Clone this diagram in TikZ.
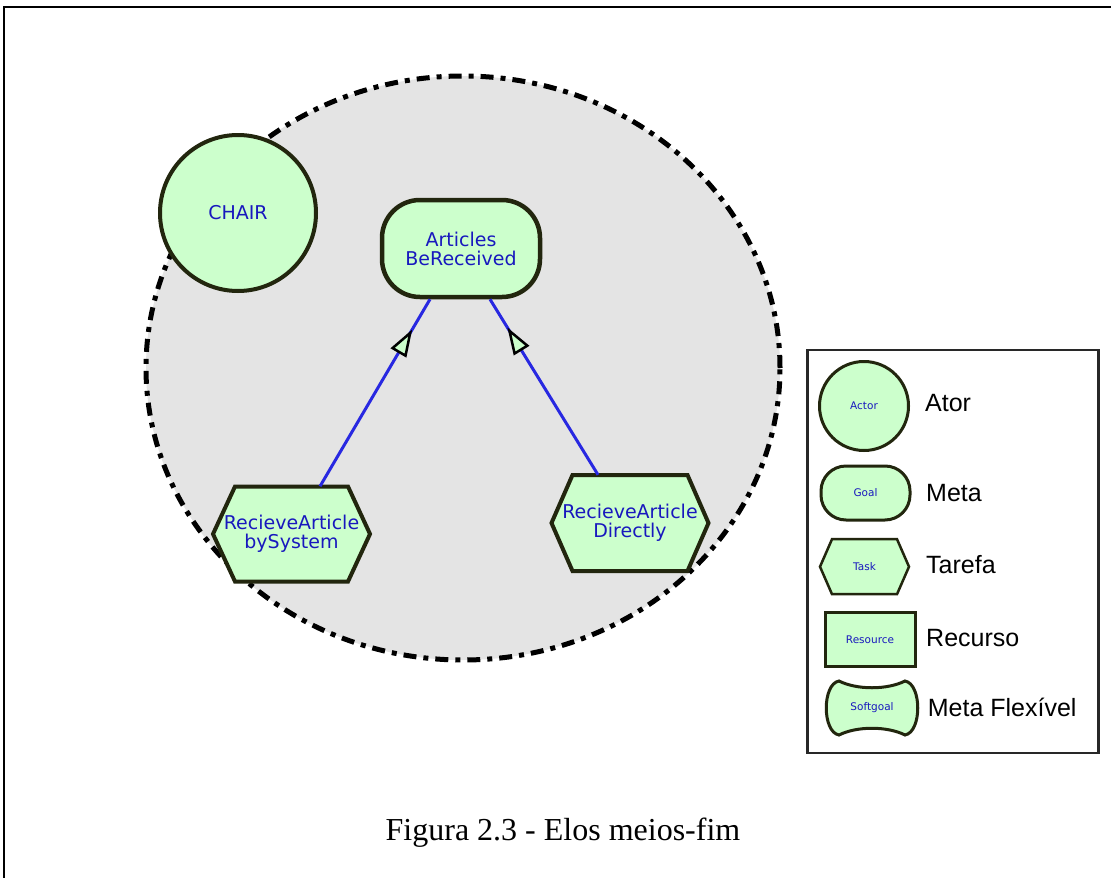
\documentclass[tikz,border=0pt]{standalone}
\usepackage{fontspec}
\setmainfont{Liberation Serif}
\newfontfamily\diagfont{DejaVu Sans}
\newfontfamily\legendfont{Liberation Sans}
\usetikzlibrary{calc,decorations.markings}

\definecolor{nodefill}{RGB}{204,255,204}
\definecolor{nodeline}{RGB}{34,38,14}
\definecolor{labelblue}{RGB}{24,24,190}
\definecolor{linkblue}{RGB}{40,40,225}
\definecolor{boundaryfill}{RGB}{228,228,228}
\definecolor{legendline}{RGB}{40,40,40}

% hexagon outline of a task: centre, half width, half height, point depth, line width
\newcommand\taskhexagon[5]{%
  \draw[draw=nodeline, fill=nodefill, line width=#5, line join=miter, shift={#1}]
    (-#2,0) -- (-#2+#4,-#3) -- (#2-#4,-#3) -- (#2,0) -- (#2-#4,#3) -- (-#2+#4,#3) -- cycle;}

\begin{document}
\begin{tikzpicture}[x=1pt,y=-1pt,
  lbl/.style={font=\diagfont\fontsize{19}{19}\selectfont, text=labelblue, align=center},
  mini/.style={font=\diagfont\fontsize{10.5}{11}\selectfont, text=labelblue},
  actor/.style={circle, draw=nodeline, fill=nodefill, line width=4pt,
    minimum size=156pt, inner sep=0pt, lbl},
  goal/.style={rectangle, rounded corners=38pt, draw=nodeline, fill=nodefill,
    line width=4.5pt, minimum width=158pt, minimum height=97pt, inner sep=0pt, lbl},
  taskbox/.style={rectangle, inner sep=0pt, lbl},
  legtext/.style={font=\legendfont\fontsize{25}{30}\selectfont, text=black, anchor=base west, inner sep=0pt},
  link/.style={draw=linkblue, line width=3pt,
    decoration={markings, mark=at position 0.82 with {
      \draw[draw=black, fill=nodefill, line width=2.5pt, line join=miter]
        (0pt,0pt) -- (-22pt,7.5pt) -- (-22pt,-7.5pt) -- cycle;}},
    postaction={decorate}},
  boundary/.style={draw=black, fill=boundaryfill, line width=5pt,
    dash pattern=on 13pt off 7pt on 5pt off 7pt}
]
\useasboundingbox (0,0) rectangle (1111,878);

% page frame (top and left edges)
\draw[line width=2.5pt] (4,878) -- (4,7) -- (1111,7);

% actor boundary
\draw[boundary] (463,368) ellipse [x radius=317pt, y radius=292pt];

% actor and goal
\node[actor] (chair) at (238,213) {CHAIR};
\node[goal] (goal) at (461,248.5) {Articles\\BeReceived};

% tasks
\taskhexagon{(291.5,534)}{78.5}{47.5}{22}{4pt}
\node[taskbox, minimum width=157pt, minimum height=95pt] (t1) at (291.5,534) {RecieveArticle\\bySystem};
\taskhexagon{(630,523)}{78.5}{48}{21}{4pt}
\node[taskbox, minimum width=157pt, minimum height=96pt] (t2) at (630,523) {RecieveArticle\\Directly};

% means-end links
\draw[link] ($(t1.north)+(28.5,0)$) -- ($(goal.south)+(-31,0)$);
\draw[link] ($(t2.north)+(-32,0)$) -- ($(goal.south)+(29,0)$);

% legend
\node[draw=legendline, fill=white, line width=2.5pt, minimum width=291pt,
  minimum height=403pt, inner sep=0pt] (legend) at (952.8,551.4) {};
\node[actor, minimum size=89pt, line width=3pt, mini] (lactor) at (864,406) {Actor};
\node[goal, minimum width=89pt, minimum height=54pt, rounded corners=25pt,
  line width=3pt, mini] (lgoal) at (865.5,493) {Goal};
\taskhexagon{(864.5,566.7)}{44.5}{27.5}{12}{2.5pt}
\node[taskbox, mini, minimum width=89pt, minimum height=55pt] (ltask) at (864.5,566.7) {Task};
\node[rectangle, draw=nodeline, fill=nodefill, line width=3pt, minimum width=90pt,
  minimum height=54pt, inner sep=0pt, mini] (lres) at (870,639.7) {Resource};
\draw[draw=nodeline, fill=nodefill, line width=3pt, shift={(872,708)}]
  (-33,-27) .. controls (-15,-18) and (15,-18) .. (33,-27)
  .. controls (50,-24) and (50,24) .. (33,27)
  .. controls (15,18) and (-15,18) .. (-33,27)
  .. controls (-50,24) and (-50,-24) .. cycle;
\node[mini, inner sep=0pt, minimum width=90pt, minimum height=56pt] (lsoft) at (872,708) {Softgoal};

\node[legtext] (tator) at (925,411.7) {Ator};
\node[legtext] (tmeta) at (926,501.7) {Meta};
\node[legtext] (ttarefa) at (926,573.3) {Tarefa};
\node[legtext] (trecurso) at (926,646) {Recurso};
\node[legtext] (tflex) at (927.7,716.7) {Meta Flexível};

% caption
\node[font=\fontsize{32}{38}\selectfont, anchor=base, inner sep=0pt] (caption) at (563,840)
  {Figura 2.3 - Elos meios-fim};
\end{tikzpicture}
\end{document}
